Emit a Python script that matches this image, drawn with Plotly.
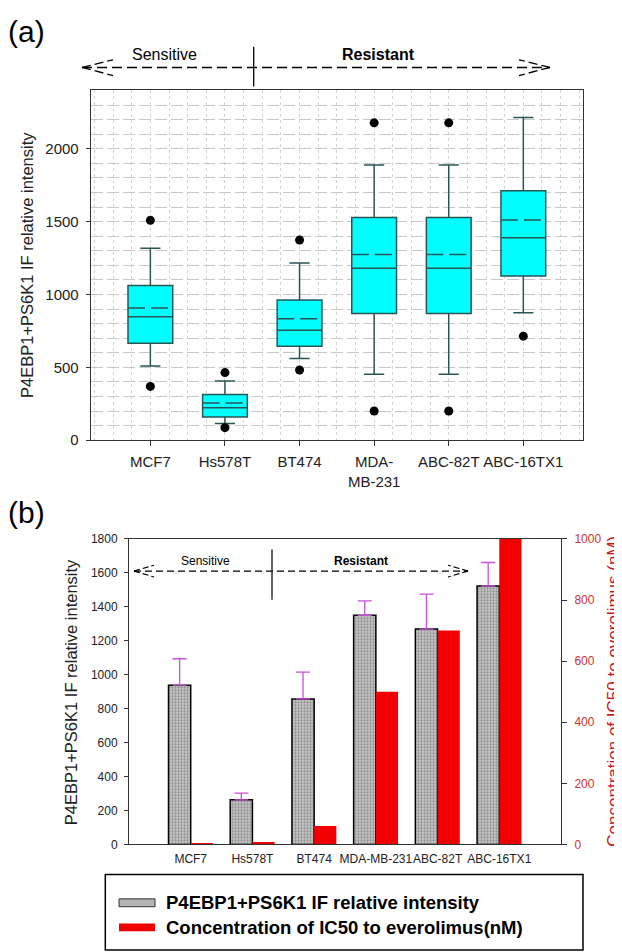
import plotly.graph_objects as go

W, H = 622, 952


def px(x):
    return x / W


def py(y):
    return 1 - y / H


# ---------------- data ----------------
cells = ["MCF7", "Hs578T", "BT474", "MDA-MB-231", "ABC-82T", "ABC-16TX1"]
box_labels = ["MCF7", "Hs578T", "BT474", "MDA-<br>MB-231", "ABC-82T", "ABC-16TX1"]

# panel (a) box statistics
q1 = [665, 160, 644, 869, 869, 1126]
median = [847, 223, 755, 1180, 1180, 1390]
q3 = [1061, 313, 962, 1529, 1529, 1712]
mean = [908, 255, 833, 1275, 1275, 1511]
lower_whisker = [509, 115, 561, 453, 453, 874]
upper_whisker = [1318, 407, 1216, 1888, 1888, 2214]
outlier_low = [369, 86, 482, 200, 200, 714]
outlier_high = [1509, 464, 1374, 2178, 2178, None]

# panel (b) bars
intensity = [938, 263, 857, 1350, 1269, 1522]
intensity_err = [156, 39, 158, 85, 206, 139]
ic50 = [5, 8, 60, 500, 700, 1000]

positions = [i + 1 for i in range(len(cells))]
BOX_W = 0.6

FONT = "Arial, Liberation Sans, sans-serif"
BOX_LINE = "#2a5555"
fig = go.Figure()

# ---------------- panel (a) ----------------
fig.add_trace(go.Box(
    x=positions, q1=q1, median=median, q3=q3,
    lowerfence=lower_whisker, upperfence=upper_whisker,
    boxpoints=False, width=BOX_W, whiskerwidth=0.45,
    fillcolor="#00ffff", line=dict(color=BOX_LINE, width=1.5),
    xaxis="x", yaxis="y", showlegend=False, name="IF",
))
# mean lines (long dashes across each box)
mx, my = [], []
for p, m in zip(positions, mean):
    mx += [p - BOX_W / 2, p + BOX_W / 2, None]
    my += [m, m, None]
fig.add_trace(go.Scatter(
    x=mx, y=my, mode="lines", line=dict(color=BOX_LINE, width=1.5, dash="17px,6px"),
    xaxis="x", yaxis="y", showlegend=False, hoverinfo="skip", name="mean",
))
ox, oy = [], []
for p, lo, hi in zip(positions, outlier_low, outlier_high):
    for v in (lo, hi):
        if v is not None:
            ox.append(p)
            oy.append(v)
fig.add_trace(go.Scatter(
    x=ox, y=oy, mode="markers", marker=dict(color="black", size=9),
    xaxis="x", yaxis="y", showlegend=False, name="outliers",
))

# ---------------- panel (b) ----------------
fig.add_trace(go.Bar(
    x=cells, y=intensity, xaxis="x2", yaxis="y2", offsetgroup="a",
    name="P4EBP1+PS6K1 IF relative intensity", showlegend=False,
    marker=dict(color="#bdbdbd", line=dict(color="black", width=1.5),
                pattern=dict(shape=".", fgcolor="#5a5a5a", bgcolor="#c8c8c8",
                             size=3, solidity=0.45)),
    error_y=dict(type="data", symmetric=False, array=intensity_err,
                 arrayminus=[0] * len(intensity_err), color="#c850d8",
                 thickness=1.3, width=7),
))
fig.add_trace(go.Bar(
    x=cells, y=ic50, xaxis="x2", yaxis="y3", offsetgroup="b",
    name="Concentration of IC50 to everolimus(nM)", showlegend=False,
    marker=dict(color="#f00000", line=dict(width=0)),
))

axis_line = "#333333"
fig.update_layout(
    width=W, height=H, margin=dict(l=0, r=0, t=0, b=0),
    paper_bgcolor="white", plot_bgcolor="white",
    font=dict(family=FONT, color="#222222"),
    barmode="group", bargap=0.28, bargroupgap=0,
    xaxis=dict(
        domain=[px(82.7), px(575)], range=[0.2, 6.8], anchor="y",
        tickmode="array", tickvals=positions, ticktext=box_labels,
        tickfont=dict(size=15), ticks="outside", ticklen=5, tickcolor=axis_line,
        showline=True, mirror=True, linecolor=axis_line, linewidth=1,
        showgrid=False, zeroline=False, tickangle=0, ticklabelstandoff=3,
        minor=dict(dtick=0.25, tick0=0, showgrid=True, griddash="dot",
                   gridcolor="#d4d4d4", gridwidth=1, ticks=""),
    ),
    yaxis=dict(
        domain=[py(432), py(76.7)], range=[0, 2400], anchor="x",
        tickmode="linear", tick0=0, dtick=500, tickfont=dict(size=15),
        ticks="outside", ticklen=4, tickcolor=axis_line,
        showline=True, mirror=True, linecolor=axis_line, linewidth=1,
        showgrid=True, griddash="12px,4px", gridcolor="#c8c8c8", gridwidth=1,
        zeroline=False, ticklabelstandoff=4,
        minor=dict(dtick=100, tick0=0, showgrid=True, griddash="12px,4px",
                   gridcolor="#c8c8c8", gridwidth=1, ticks=""),
    ),
    xaxis2=dict(
        domain=[px(121), px(553)], range=[-1, 6], anchor="y2", type="category",
        tickfont=dict(size=12), ticks="", showline=True, mirror=True,
        linecolor=axis_line, linewidth=1, showgrid=False, zeroline=False,
        tickangle=0, ticklabelstandoff=3,
    ),
    yaxis2=dict(
        domain=[py(842.7), py(532.3)], range=[0, 1800], anchor="x2",
        tickmode="linear", tick0=0, dtick=200, tickfont=dict(size=12),
        ticks="outside", ticklen=4, tickcolor=axis_line,
        showline=True, linecolor=axis_line, linewidth=1,
        showgrid=False, zeroline=False, ticklabelstandoff=4,
    ),
    yaxis3=dict(
        overlaying="y2", side="right", anchor="x2", range=[0, 1000],
        tickmode="linear", tick0=0, dtick=200,
        tickfont=dict(size=12, color="#cc3333"),
        ticks="outside", ticklen=5, tickcolor=axis_line,
        showline=True, linecolor=axis_line, linewidth=1,
        showgrid=False, zeroline=False, ticklabelstandoff=5,
    ),
)

shapes = []
annotations = []


def line(x0, y0, x1, y1, dash="solid", width=1.3, color="black"):
    shapes.append(dict(type="line", xref="paper", yref="paper",
                       x0=px(x0), y0=py(y0), x1=px(x1), y1=py(y1),
                       line=dict(color=color, width=width, dash=dash)))


def text(x, y, s, size, color="black", angle=0, xanchor="center", bold=False):
    annotations.append(dict(
        xref="paper", yref="paper", x=px(x), y=py(y), text=s,
        showarrow=False, textangle=angle, xanchor=xanchor, yanchor="middle",
        borderpad=0,
        font=dict(family=FONT, size=size, color=color,
                  weight="bold" if bold else "normal")))


# panel labels
text(18, 17, "(a)", 30)
text(18, 505, "(b)", 30)

# panel (a) sensitive / resistant arrow
line(74, 53.3, 542, 53.3, dash="10px,5px", width=1.5)
line(74, 53.3, 105, 45.5, dash="9px,4px", width=1.3)
line(74, 53.3, 105, 61.5, dash="9px,4px", width=1.3)
line(542, 53.3, 511, 45.5, dash="9px,4px", width=1.3)
line(542, 53.3, 511, 61.5, dash="9px,4px", width=1.3)
line(245.7, 32.3, 245.7, 72.7, width=1.3)
text(157, 40, "Sensitive", 16)
text(370, 40, "Resistant", 16, bold=True)

# panel (b) sensitive / resistant arrow
line(126, 565, 460, 565, dash="7px,4px", width=1.2)
line(126, 565, 146, 559, dash="6px,3px", width=1.1)
line(126, 565, 146, 571, dash="6px,3px", width=1.1)
line(460, 565, 440, 559, dash="6px,3px", width=1.1)
line(460, 565, 440, 571, dash="6px,3px", width=1.1)
line(264, 543, 264, 594, width=1.2)
text(197, 555, "Sensitive", 12)
text(353, 555, "Resistant", 12, bold=True)

# axis titles
text(19, 254, "P4EBP1+PS6K1 IF relative intensity", 16.5, color="#222222", angle=-90)
text(63, 688, "P4EBP1+PS6K1 IF relative intensity", 16.5, color="#222222", angle=-90)
annotations.append(dict(
    xref="paper", yref="paper", x=px(616), y=py(687),
    text="Concentration of IC50 to everolimus (nM)", showarrow=False,
    textangle=-90, xanchor="right", yanchor="middle", borderpad=0,
    font=dict(family=FONT, size=17, color="#d01515")))

# legend box (bottom)
shapes.append(dict(type="rect", xref="paper", yref="paper",
                   x0=px(97.3), x1=px(575), y0=py(950), y1=py(873.3),
                   line=dict(color="black", width=1.5), fillcolor="rgba(0,0,0,0)"))
shapes.append(dict(type="rect", xref="paper", yref="paper",
                   x0=px(111), x1=px(147), y0=py(906), y1=py(898),
                   line=dict(color="#333333", width=1), fillcolor="#b5b5b5"))
shapes.append(dict(type="rect", xref="paper", yref="paper",
                   x0=px(111), x1=px(147), y0=py(931), y1=py(923),
                   line=dict(color="#f00000", width=0), fillcolor="#f00000"))
text(157, 902, "P4EBP1+PS6K1 IF relative intensity", 18.5, xanchor="left", bold=True)
text(157, 927, "Concentration of IC50 to everolimus(nM)", 18.5, xanchor="left", bold=True)

fig.update_layout(shapes=shapes, annotations=annotations)
fig.write_html("out.html")
